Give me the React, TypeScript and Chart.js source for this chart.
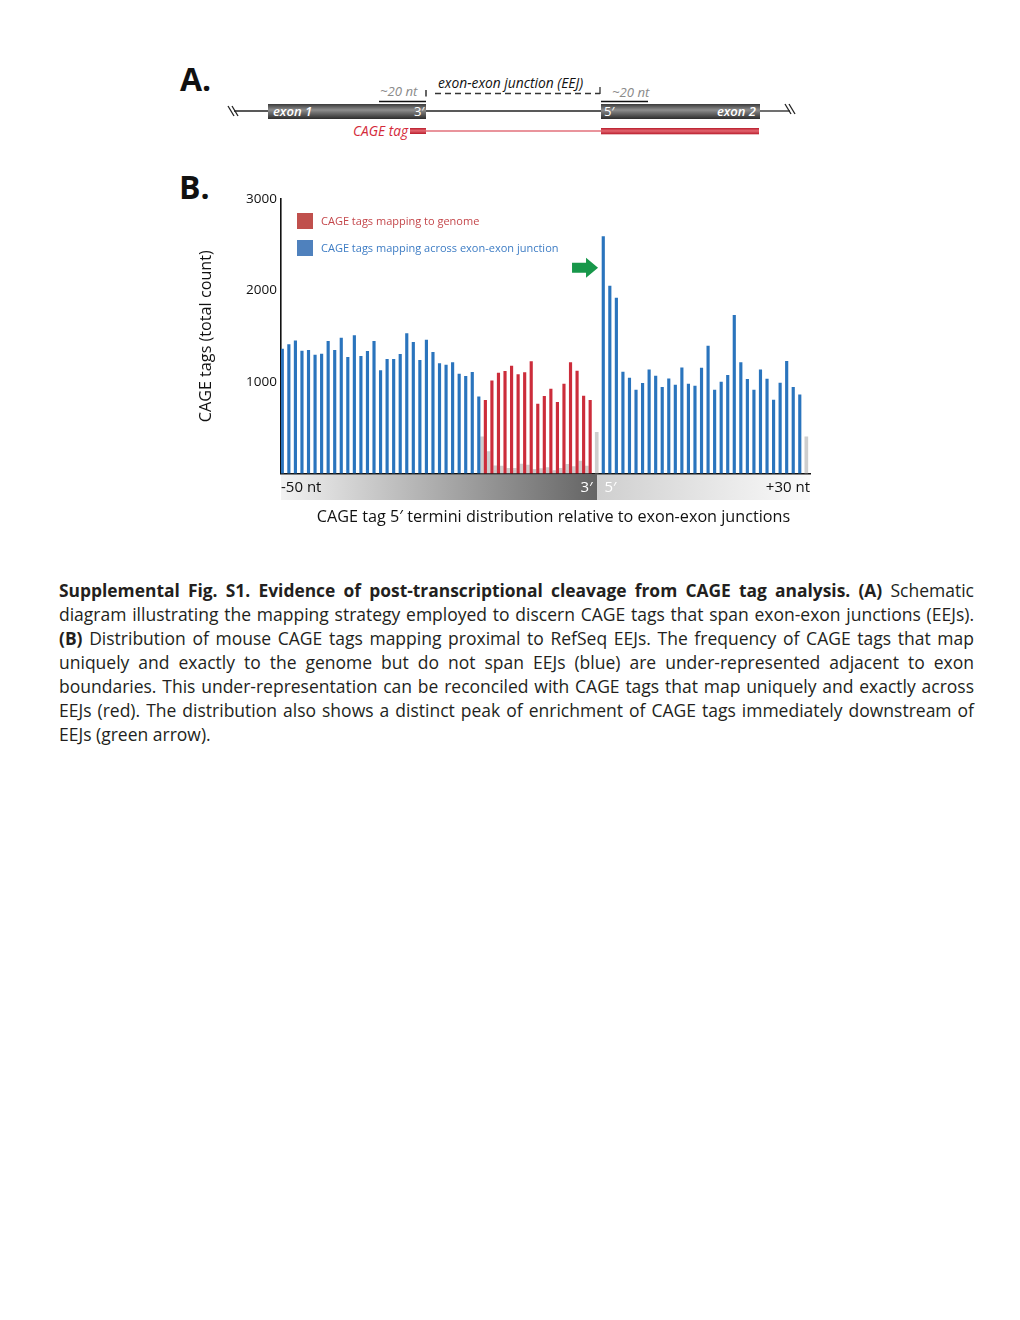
import React, { useEffect, useRef } from "react";
import { Chart, registerables } from "chart.js";

Chart.register(...registerables);

// ---- data ----
// positions are nucleotide slots 0..80 (-50 nt .. +30 nt); slot 48 is the junction gap
const blueLeftValues = [1361, 1408, 1451, 1339, 1346, 1295, 1306, 1445, 1346, 1481, 1270, 1506, 1281, 1335, 1445, 1124, 1248, 1248, 1303, 1528, 1434, 1237, 1459, 1325, 1200, 1186, 1211, 1087, 1062, 1106, 839];
const redValues = [800, 1014, 1098, 1117, 1175, 1080, 1102, 1222, 760, 844, 923, 778, 978, 1211, 1120, 847, 800];
const blueRightValues = [2588, 2049, 1918, 1109, 1044, 913, 986, 1134, 1066, 942, 1036, 967, 1156, 978, 956, 1153, 1393, 913, 1000, 1073, 1729, 1211, 1029, 913, 1134, 1033, 803, 989, 1226, 942, 861];
const grayShadowValues = [400, 240, 85, 82, 57, 57, 104, 93, 46, 53, 64, 31, 57, 100, 75, 137, 82];
const junctionShadowValue = 450;
const endShadowValue = 400;

const blueLeftStart = 0;
const redStart = 31;
const junctionSlot = 48;
const blueRightStart = 49;
const endSlot = 80;

const yTicks = [1000, 2000, 3000];
const xTickLabels = ["-50 nt", "3\u2032", "5\u2032", "+30 nt"];
const xTickSlots = [-0.2, 46.45, 50.1, 80.56];

const legendItems = [
  { label: "CAGE tags mapping to genome", color: "#c0504d", text: "#c4474b" },
  { label: "CAGE tags mapping across exon-exon junction", color: "#4f81bd", text: "#3d7cc4" },
];

const yTitle = "CAGE tags (total count)";
const xTitle = "CAGE tag 5\u2032 termini distribution relative to exon-exon junctions";

const FONT = "'Open Sans', 'Noto Sans', sans-serif";

const bandPlugin = {
  id: "band",
  beforeDraw(chart: any) {
    const { ctx, chartArea } = chart;
    const xs = chart.scales.x;
    const mid = xs.getPixelForValue(48.05);
    const top = chartArea.bottom + 1;
    const h = 25.5;
    ctx.save();
    const g1 = ctx.createLinearGradient(chartArea.left, 0, mid, 0);
    g1.addColorStop(0, "#f2f2f2");
    g1.addColorStop(1, "#646464");
    ctx.fillStyle = g1;
    ctx.fillRect(chartArea.left, top, mid - chartArea.left, h);
    const g2 = ctx.createLinearGradient(mid, 0, chartArea.right, 0);
    g2.addColorStop(0, "#cfcfcf");
    g2.addColorStop(1, "#fafafa");
    ctx.fillStyle = g2;
    ctx.fillRect(mid, top, chartArea.right - mid, h);
    ctx.restore();
  },
};

const overlayPlugin = {
  id: "overlay",
  afterDatasetsDraw(chart: any) {
    const { ctx, chartArea } = chart;
    const xs = chart.scales.x;
    const ys = chart.scales.y;
    // green arrow pointing at the junction peak
    const tipX = xs.getPixelForValue(48.2);
    const tipY = ys.getPixelForValue(2250);
    ctx.save();
    ctx.fillStyle = "#17974a";
    ctx.beginPath();
    ctx.moveTo(tipX, tipY);
    ctx.lineTo(tipX - 12, tipY - 10);
    ctx.lineTo(tipX - 12, tipY - 5);
    ctx.lineTo(tipX - 26, tipY - 5);
    ctx.lineTo(tipX - 26, tipY + 5);
    ctx.lineTo(tipX - 12, tipY + 5);
    ctx.lineTo(tipX - 12, tipY + 10);
    ctx.closePath();
    ctx.fill();
    // legend
    ctx.font = `11px ${FONT}`;
    ctx.textBaseline = "middle";
    ctx.textAlign = "left";
    legendItems.forEach((it, i) => {
      const bx = chartArea.left + 16;
      const by = chartArea.top + 14 + i * 27;
      ctx.fillStyle = it.color;
      ctx.fillRect(bx, by, 16, 16);
      ctx.fillStyle = it.text;
      ctx.fillText(it.label, bx + 24, by + 8.5);
    });
    ctx.restore();
  },
};

function CageChart() {
  const ref = useRef<HTMLCanvasElement | null>(null);
  useEffect(() => {
    if (!ref.current) return;
    const blueData = [
      ...blueLeftValues.map((y, i) => ({ x: blueLeftStart + i, y })),
      ...blueRightValues.map((y, i) => ({ x: blueRightStart + i, y })),
    ];
    const redData = redValues.map((y, i) => ({ x: redStart + i, y }));
    const grayData = [
      ...grayShadowValues.map((y, i) => ({ x: redStart + i - 0.5, y })),
      { x: junctionSlot, y: junctionShadowValue },
      { x: endSlot, y: endShadowValue },
    ];
    const chart = new Chart(ref.current, {
      type: "bar",
      data: {
        datasets: [
          {
            label: legendItems[1].label,
            data: blueData,
            backgroundColor: "#2a74bd",
            grouped: false,
            maxBarThickness: 2.5,
            categoryPercentage: 1,
            barPercentage: 1,
            order: 0,
          },
          {
            label: legendItems[0].label,
            data: redData,
            backgroundColor: "#cc2d3b",
            grouped: false,
            maxBarThickness: 2.5,
            categoryPercentage: 1,
            barPercentage: 1,
            order: 0,
          },
          {
            label: "shadow",
            data: grayData,
            backgroundColor: "rgba(190,190,190,0.75)",
            grouped: false,
            maxBarThickness: 3,
            categoryPercentage: 1,
            barPercentage: 1,
            order: 2,
          },
        ] as any,
      },
      options: {
        animation: false,
        responsive: false,
        maintainAspectRatio: false,
        devicePixelRatio: 1,
        layout: { padding: { top: 19, right: 10, left: 0, bottom: 0 } },
        plugins: { legend: { display: false }, tooltip: { enabled: false } },
        scales: {
          x: {
            type: "linear",
            min: -0.2,
            max: 80.56,
            offset: false,
            bounds: "data",
            grid: { display: false, drawTicks: false, offset: false },
            border: { display: true, color: "#111", width: 1.6 },
            afterBuildTicks: (s: any) => {
              s.ticks = xTickSlots.map((v) => ({ value: v }));
            },
            afterFit: (s: any) => {
              s.height = 36.5;
            },
            ticks: {
              autoSkip: false,
              maxRotation: 0,
              minRotation: 0,
              align: "inner",
              padding: 5,
              font: { size: 15, family: FONT },
              color: (c: any) => (c.index === 1 || c.index === 2 ? "#ffffff" : "#111111"),
              callback: (_v: any, i: number) => xTickLabels[i],
            },
          },
          y: {
            min: 0,
            max: 3000,
            grid: { display: false, drawTicks: false },
            border: { display: true, color: "#111", width: 1.6 },
            afterBuildTicks: (s: any) => {
              s.ticks = [{ value: 0 }, ...yTicks.map((v) => ({ value: v }))];
            },
            afterFit: (s: any) => {
              s.width = 91;
            },
            ticks: {
              padding: 4,
              font: { size: 13.5, family: FONT },
              color: "#111",
              callback: (v: any) => (v === 0 ? "" : String(v)),
            },
            title: {
              display: true,
              text: yTitle,
              color: "#111",
              font: { size: 16.2, family: FONT },
              padding: { top: 7, bottom: 0 },
            },
          },
        },
      },
      plugins: [bandPlugin, overlayPlugin],
    } as any);
    return () => chart.destroy();
  }, []);
  return (
    <canvas
      ref={ref}
      width={630}
      height={330}
      style={{ position: "absolute", left: 190, top: 180, width: 630, height: 330 }}
    />
  );
}

function SchemaA() {
  const it = { fontFamily: FONT, fontStyle: "italic" as const };
  return (
    <svg width={1020} height={210} style={{ position: "absolute", left: 0, top: 0 }}>
      <defs>
        <linearGradient id="exonGrad" x1="0" y1="0" x2="0" y2="1">
          <stop offset="0" stopColor="#3a3a3a" />
          <stop offset="0.4" stopColor="#8e8e8e" />
          <stop offset="0.6" stopColor="#6c6c6c" />
          <stop offset="1" stopColor="#2c2c2c" />
        </linearGradient>
        <linearGradient id="tagGrad" x1="0" y1="0" x2="0" y2="1">
          <stop offset="0" stopColor="#b81d2c" />
          <stop offset="0.45" stopColor="#e46570" />
          <stop offset="1" stopColor="#b81d2c" />
        </linearGradient>
      </defs>
      <text x={180} y={91} fontSize={32} fontWeight={700} fontFamily={FONT} fill="#111">A.</text>
      <text x={179} y={199} fontSize={32} fontWeight={700} fontFamily={FONT} fill="#111">B.</text>
      {/* backbone */}
      <line x1={234} y1={111} x2={268} y2={111} stroke="#222" strokeWidth={1.3} />
      <line x1={426} y1={111} x2={601} y2={111} stroke="#222" strokeWidth={1.3} />
      <line x1={760} y1={111} x2={790} y2={111} stroke="#222" strokeWidth={1.3} />
      <line x1={228} y1={106} x2={234} y2={116} stroke="#222" strokeWidth={1.3} />
      <line x1={232} y1={106} x2={238} y2={116} stroke="#222" strokeWidth={1.3} />
      <line x1={785} y1={104} x2={791} y2={114} stroke="#222" strokeWidth={1.3} />
      <line x1={789} y1={104} x2={795} y2={114} stroke="#222" strokeWidth={1.3} />
      {/* exons */}
      <rect x={268} y={104} width={158} height={15} fill="url(#exonGrad)" />
      <rect x={601} y={104} width={159} height={15} fill="url(#exonGrad)" />
      <text x={273} y={116} fontSize={13} fontWeight={600} fill="#fff" {...it}>exon 1</text>
      <text x={414} y={116} fontSize={13} fontFamily={FONT} fill="#fff">3′</text>
      <text x={604} y={116} fontSize={13} fontFamily={FONT} fill="#fff">5′</text>
      <text x={756} y={116} fontSize={13} fontWeight={600} fill="#fff" textAnchor="end" {...it}>exon 2</text>
      {/* ~20 nt marks */}
      <text x={380} y={96} fontSize={13.2} fill="#8a8a8a" {...it}>~20 nt</text>
      <line x1={379} y1={101.5} x2={426} y2={101.5} stroke="#111" strokeWidth={1.4} />
      <text x={612} y={97} fontSize={13.2} fill="#8a8a8a" {...it}>~20 nt</text>
      <line x1={601} y1={101.5} x2={648} y2={101.5} stroke="#111" strokeWidth={1.4} />
      {/* EEJ bracket */}
      <line x1={426} y1={90} x2={426} y2={96.5} stroke="#111" strokeWidth={1.3} />
      <line x1={435} y1={93.5} x2={600} y2={93.5} stroke="#333" strokeWidth={1.3} strokeDasharray="6 4" />
      <line x1={600} y1={87} x2={600} y2={94} stroke="#333" strokeWidth={1.3} />
      <text x={438} y={88} fontSize={13.8} fill="#111" {...it}>exon-exon junction (EEJ)</text>
      {/* CAGE tag */}
      <text x={408} y={136} fontSize={13.7} fill="#d42a3a" textAnchor="end" {...it}>CAGE tag</text>
      <rect x={410} y={128} width={16} height={6} fill="url(#tagGrad)" />
      <line x1={426} y1={131} x2={601} y2={131} stroke="#d42a3a" strokeWidth={1.2} />
      <rect x={601} y={128} width={158} height={6.3} fill="url(#tagGrad)" />
    </svg>
  );
}

const captionLines: Array<Array<[string, boolean]>> = [
  [["Supplemental Fig. S1. Evidence of post-transcriptional cleavage from CAGE tag analysis. (A)", true], [" Schematic", false]],
  [["diagram illustrating the mapping strategy employed to discern CAGE tags that span exon-exon junctions (EEJs).", false]],
  [["(B)", true], [" Distribution of mouse CAGE tags mapping proximal to RefSeq EEJs. The frequency of CAGE tags that map", false]],
  [["uniquely and exactly to the genome but do not span EEJs (blue) are under-represented adjacent to exon", false]],
  [["boundaries. This under-representation can be reconciled with CAGE tags that map uniquely and exactly across", false]],
  [["EEJs (red). The distribution also shows a distinct peak of enrichment of CAGE tags immediately downstream of", false]],
  [["EEJs (green arrow).", false]],
];

function Caption() {
  return (
    <div
      style={{
        position: "absolute",
        left: 59,
        top: 578,
        width: 915,
        fontFamily: FONT,
        fontSize: 17.5,
        lineHeight: "24px",
        color: "#231f20",
      }}
    >
      {captionLines.map((parts, i) => (
        <div
          key={i}
          style={{
            height: 24,
            textAlign: "justify",
            textAlignLast: i === captionLines.length - 1 ? "left" : "justify",
          } as any}
        >
          {parts.map(([t, b], j) => (
            <span
              key={j}
              style={b ? { fontWeight: 700, fontSize: 17.4, letterSpacing: "0px" } : { fontWeight: 400 }}
            >
              {t}
            </span>
          ))}
        </div>
      ))}
    </div>
  );
}

export default function App() {
  return (
    <div style={{ position: "absolute", left: 0, top: 0, width: 1020, height: 1320, background: "#fff" }}>
      <SchemaA />
      <CageChart />
      <div
        style={{
          position: "absolute",
          left: 553.5,
          top: 506,
          transform: "translateX(-50%)",
          whiteSpace: "nowrap",
          fontFamily: FONT,
          fontSize: 16.2,
          lineHeight: "20px",
          color: "#111",
        }}
      >
        {xTitle}
      </div>
      <Caption />
    </div>
  );
}
